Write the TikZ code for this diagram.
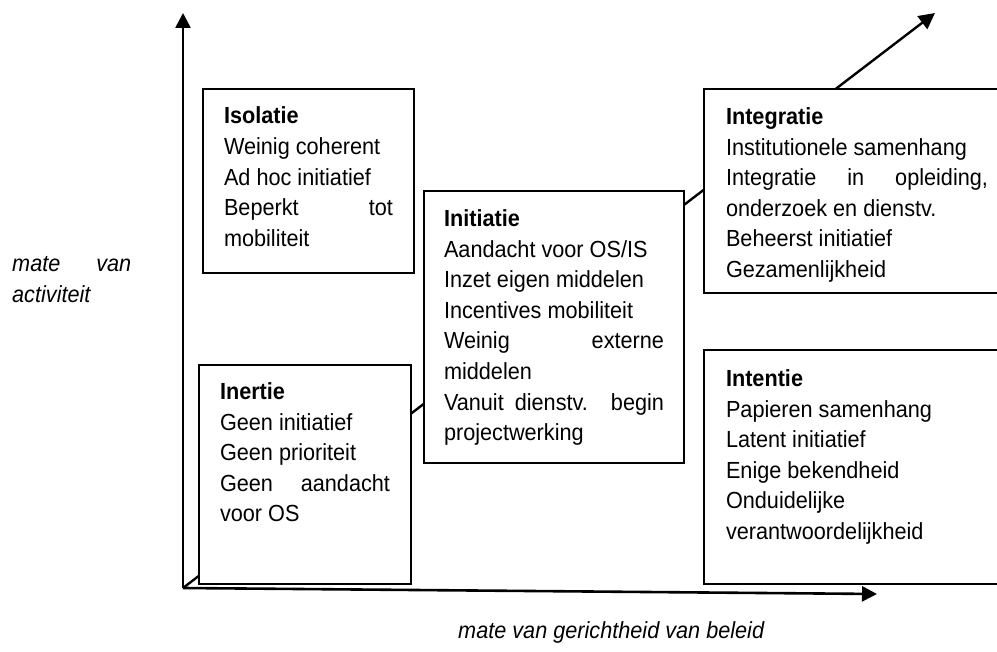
\documentclass[tikz,border=0pt]{standalone}
\usepackage{fontspec}
\setmainfont{Liberation Sans}[FakeStretch=0.93]
\usepackage{tikz}
\usetikzlibrary{arrows.meta}
\definecolor{ink}{HTML}{000000}
\newcommand\txt{\fontsize{23.3pt}{30.6pt}\selectfont}
\tikzset{
  axis/.style={draw=ink, line width=2.6pt, -{Triangle[length=15pt,width=15pt]}},
  pad/.style={draw=ink, line width=2.4pt, -{Triangle[length=16pt,width=16pt]}},
  fase/.style={draw=ink, fill=white, line width=2pt, anchor=north west, align=justify,
    inner xsep=21pt, inner ysep=0pt, font=\txt},
  lab/.style={font=\txt\itshape, inner sep=0pt},
}

\begin{document}
\begin{tikzpicture}[x=1pt,y=-1pt]
  \useasboundingbox (0,0) rectangle (997,652);
  \coordinate (O) at (183,588);
  \coordinate (ytop) at (183,13);
  \coordinate (xtop) at (877,594);
  \coordinate (dtop) at (935,13);
  % groeipad, loopt achter de vakken
  \draw[pad] (O) -- (dtop);
  \draw[axis] (O) -- (ytop);
  \draw[axis] (O) -- (xtop);
  % de vijf fasen
  \node[fase, text width=169pt, text height=35pt, text depth=149pt] (isolatie) at (202,88)
    {\textbf{Isolatie}\\ Weinig coherent\\ Ad hoc initiatief\\ Beperkt tot\linebreak mobiliteit};
  \node[fase, text width=170pt, text height=34.5pt, text depth=184.5pt] (inertie) at (198,364)
    {\textbf{Inertie}\\ Geen initiatief\\ Geen prioriteit\\ Geen aandacht\linebreak voor OS};
  \node[fase, text width=220pt, inner xsep=20pt, text height=35.5pt, text depth=236.5pt] (initiatie) at (423,190)
    {\textbf{Initiatie}\\ Aandacht voor OS/IS\\ Inzet eigen middelen\\ Incentives mobiliteit\\
     Weinig externe\linebreak middelen\\ Vanuit dienstv. begin\linebreak projectwerking};
  \node[fase, text width=262pt, inner xsep=22pt, text height=35.5pt, text depth=168.5pt] (integratie) at (703,88)
    {\textbf{Integratie}\\ Institutionele samenhang\\ Integratie in opleiding,\linebreak onderzoek en dienstv.\\
     Beheerst initiatief\\ Gezamenlijkheid};
  \node[fase, text width=262pt, inner xsep=22pt, text height=36.5pt, text depth=197.5pt] (intentie) at (703,349)
    {\textbf{Intentie}\\ Papieren samenhang\\ Latent initiatief\\ Enige bekendheid\\ Onduidelijke\\ verantwoordelijkheid};
  % assen
  \node[lab, text width=119pt, align=justify, anchor=base west] (ylab) at (12,272) {mate van\linebreak activiteit};
  \node[lab, anchor=base west] (xlab) at (458,638) {mate van gerichtheid van beleid};
\end{tikzpicture}
\end{document}
